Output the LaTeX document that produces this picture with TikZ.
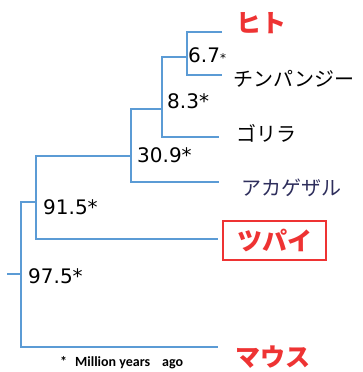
\documentclass[tikz,border=0pt]{standalone}
\usepackage{fontspec}
\setmainfont{DejaVu Sans}
\newfontfamily\jp{Noto Sans CJK JP}
\newfontfamily\carl{Carlito}
\definecolor{lineblue}{HTML}{5B9BD5}
\definecolor{redtxt}{HTML}{EE3333}
\definecolor{navy}{HTML}{2E2E5C}
\tikzset{
  branch/.style={draw=lineblue, line width=1.6pt},
  num/.style={anchor=base west, inner sep=0pt, font=\fontsize{20}{20}\selectfont},
  leaf/.style={anchor=west, inner sep=0pt, font=\jp\fontsize{20}{20}\selectfont},
  redleaf/.style={anchor=west, inner sep=0pt, text=redtxt, font=\jp\bfseries\fontsize{25}{25}\selectfont},
}
\begin{document}
\begin{tikzpicture}[x=1pt,y=-1pt]
\useasboundingbox (0,0) rectangle (363,372);
% internal nodes
\coordinate (stub) at (7,274);
\coordinate (nroot) at (21,274);
\coordinate (n915) at (36,202);
\coordinate (n309) at (131,156);
\coordinate (n83) at (162,109);
\coordinate (n67) at (187,57);
% leaf ends
\coordinate (hitoE) at (222,32);
\coordinate (chimpE) at (222,75);
\coordinate (gorE) at (219,137);
\coordinate (akaE) at (219,182);
\coordinate (tupE) at (218,239);
\coordinate (mouseE) at (218,347);
% branches
\draw[branch] (hitoE) -| (n67) |- (chimpE);
\draw[branch] (n67) -| (n83) |- (gorE);
\draw[branch] (n83) -| (n309) |- (akaE);
\draw[branch] (n309) -| (n915) |- (tupE);
\draw[branch] (n915) -| (nroot) |- (mouseE);
\draw[branch] (stub) -- (nroot);
% numbers
\node[num] (l67) at (188,62) {6.7{\fontsize{12}{12}\selectfont*}};
\node[num] (l83) at (167,108) {8.3*};
\node[num] (l309) at (137,162) {30.9*};
\node[num] (l915) at (43,214) {91.5*};
\node[num] (l975) at (28,283) {97.5*};
% leaves
\node[redleaf] (hito) at (236,23) {ヒト};
\node[leaf] (chimp) at (233,79) {チンパンジー};
\node[leaf] (gor) at (236,133) {ゴリラ};
\node[leaf, text=navy] (aka) at (241,188) {アカゲザル};
\node[draw=redtxt, line width=1.5pt, minimum width=103pt, minimum height=39pt, inner sep=0pt, text=redtxt, font=\jp\bfseries\fontsize{25}{25}\selectfont] (tup) at (274.5,240.5) {ツパイ};
\node[redleaf] (mouse) at (235,357) {マウス};
\node[anchor=west, inner sep=0pt, font=\carl\bfseries\fontsize{14}{14}\selectfont] (note) at (60,363) {*\hspace{8pt}Million years\hspace{12pt}ago};
\end{tikzpicture}
\end{document}
